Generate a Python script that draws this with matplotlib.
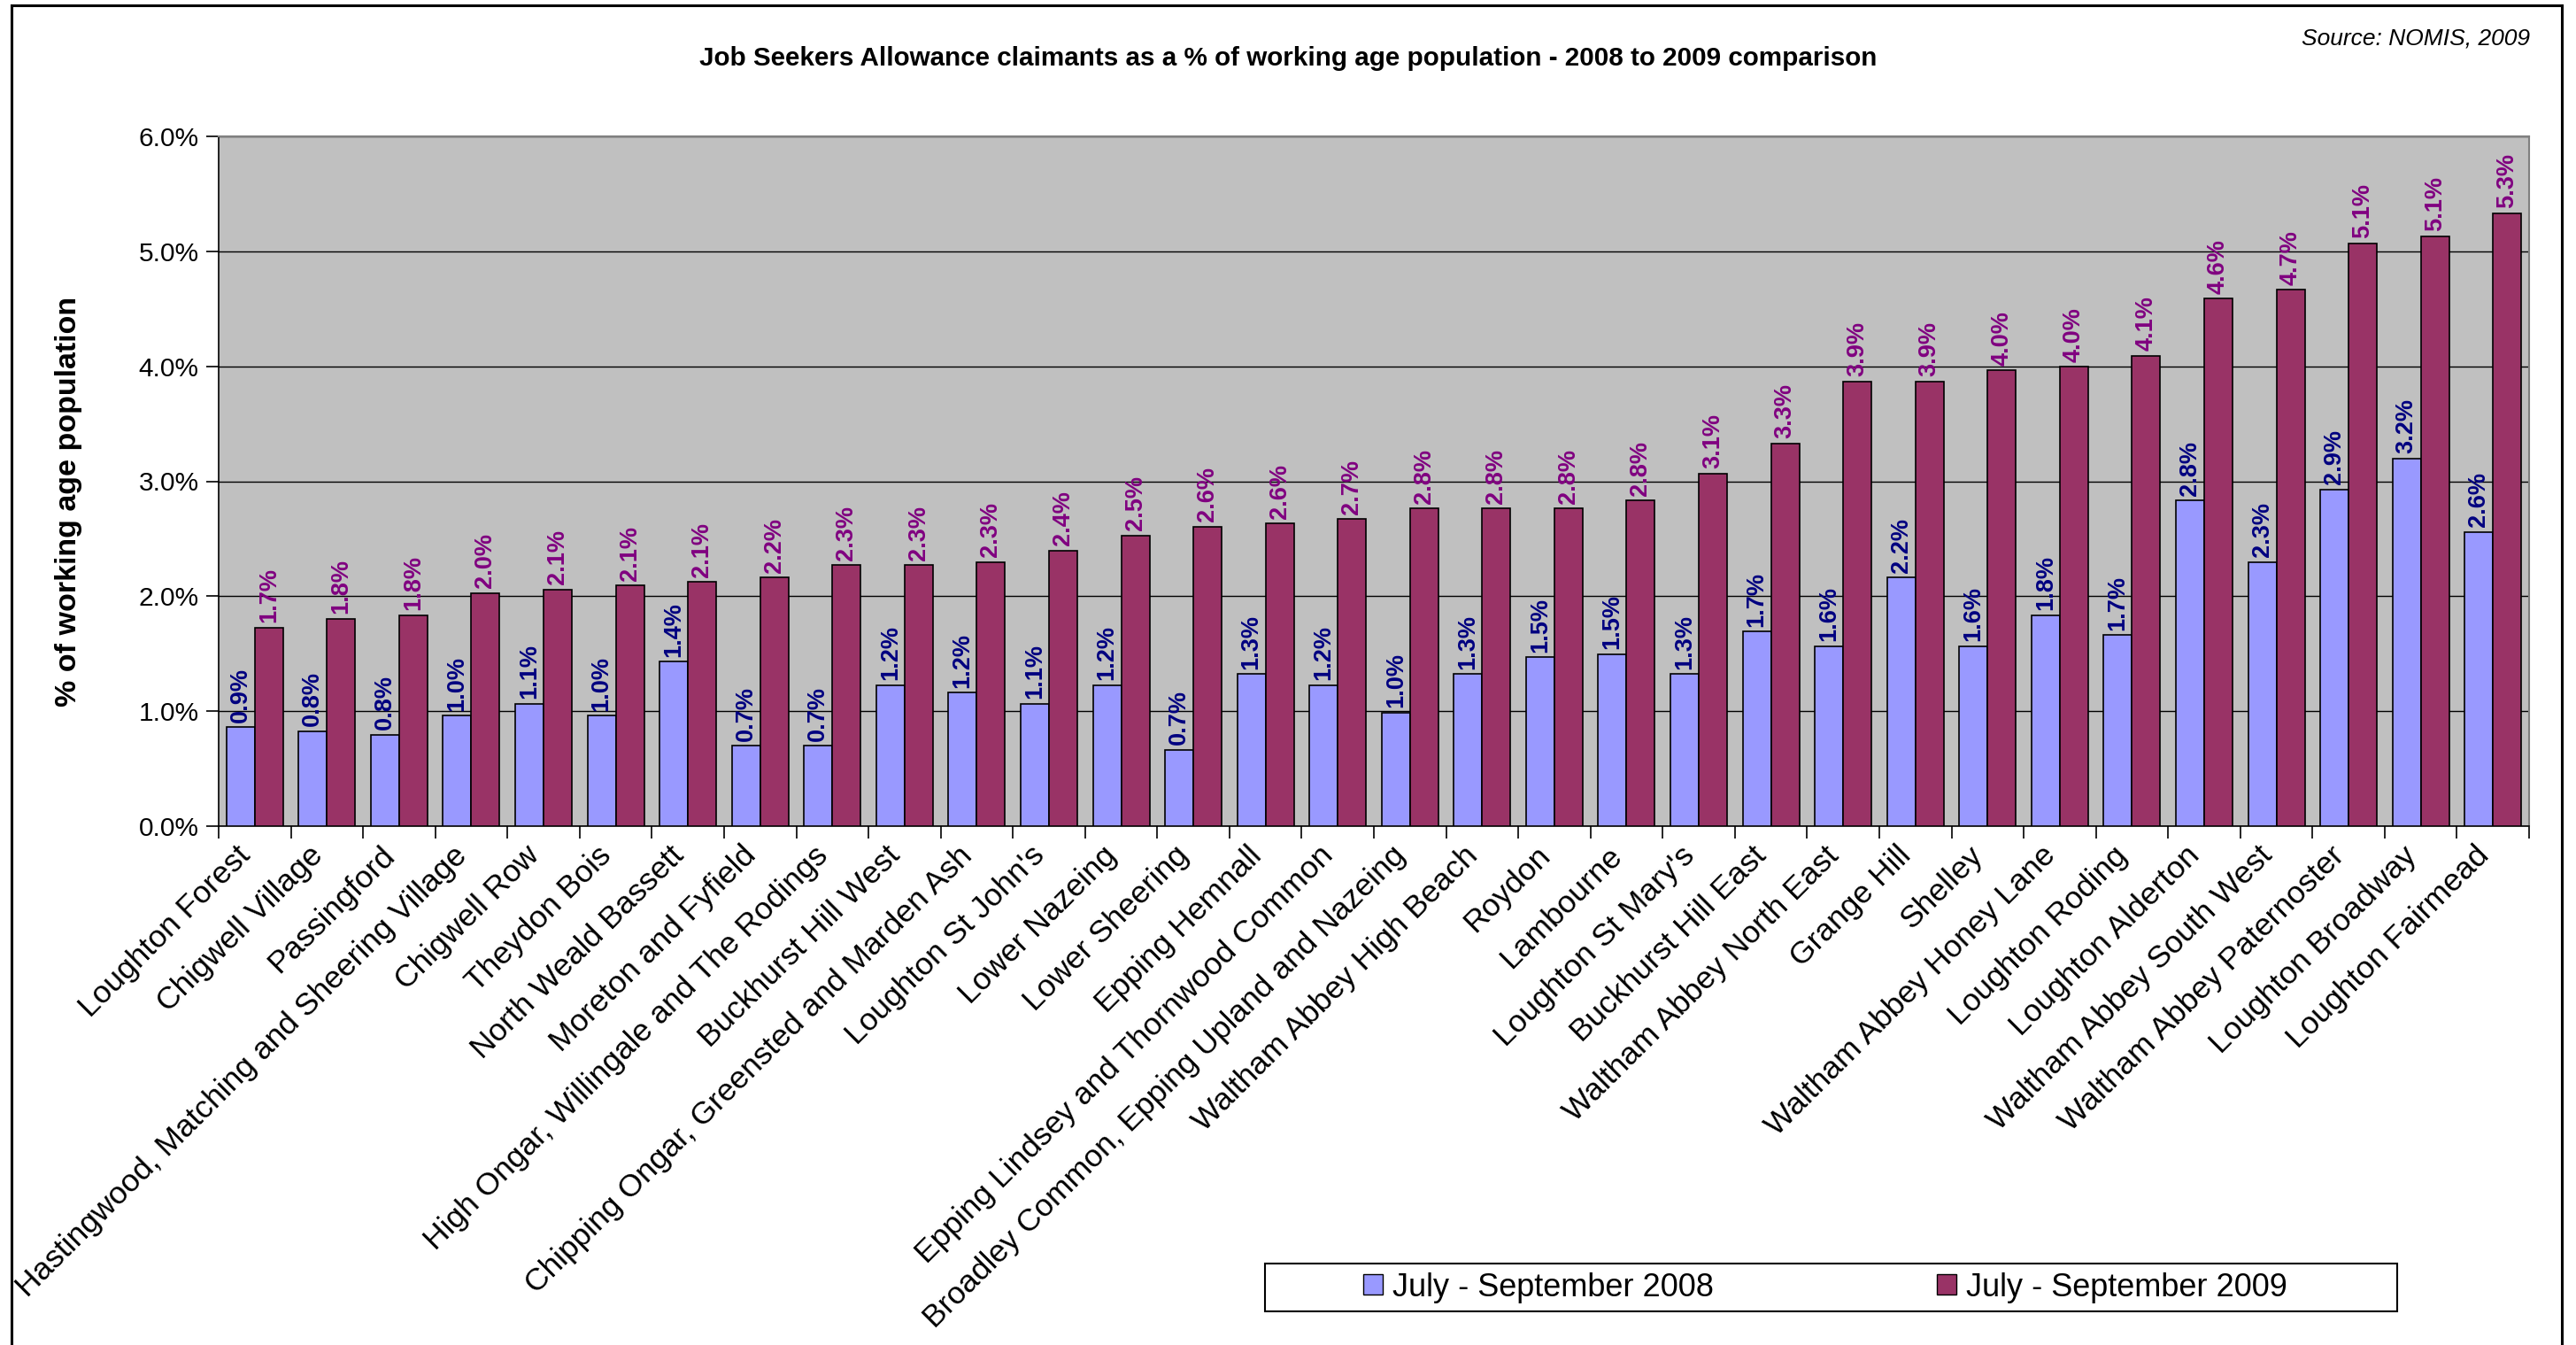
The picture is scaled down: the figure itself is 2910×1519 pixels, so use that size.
import matplotlib
matplotlib.use("Agg")
import matplotlib.pyplot as plt
import matplotlib.transforms as mtrans
from matplotlib.patches import Rectangle, Patch
from matplotlib.lines import Line2D
from matplotlib.ticker import FuncFormatter, FixedLocator
import numpy as np

categories = [
    "Loughton Forest", "Chigwell Village", "Passingford",
    "Hastingwood, Matching and Sheering Village", "Chigwell Row", "Theydon Bois",
    "North Weald Bassett", "Moreton and Fyfield", "High Ongar, Willingale and The Rodings",
    "Buckhurst Hill West", "Chipping Ongar, Greensted and Marden Ash", "Loughton St John's",
    "Lower Nazeing", "Lower Sheering", "Epping Hemnall",
    "Epping Lindsey and Thornwood Common", "Broadley Common, Epping Upland and Nazeing",
    "Waltham Abbey High Beach", "Roydon", "Lambourne", "Loughton St Mary's",
    "Buckhurst Hill East", "Waltham Abbey North East", "Grange Hill", "Shelley",
    "Waltham Abbey Honey Lane", "Loughton Roding", "Loughton Alderton",
    "Waltham Abbey South West", "Waltham Abbey Paternoster", "Loughton Broadway",
    "Loughton Fairmead",
]

jsa_2008 = [0.859, 0.827, 0.794, 0.960, 1.065, 0.960, 1.431, 0.698, 0.698, 1.226,
            1.161, 1.065, 1.226, 0.665, 1.323, 1.226, 0.988, 1.323, 1.468, 1.496,
            1.323, 1.694, 1.565, 2.161, 1.565, 1.835, 1.661, 2.831, 2.298, 2.927,
            3.198, 2.560]

jsa_2009 = [1.726, 1.802, 1.835, 2.028, 2.060, 2.093, 2.125, 2.161, 2.270, 2.270,
            2.298, 2.395, 2.528, 2.605, 2.633, 2.669, 2.762, 2.762, 2.762, 2.831,
            3.069, 3.327, 3.867, 3.867, 3.964, 3.996, 4.093, 4.589, 4.665, 5.069,
            5.133, 5.331]

series_labels = ["July - September 2008", "July - September 2009"]
y_ticks = [0, 1, 2, 3, 4, 5, 6]

plt.rcParams['font.family'] = ['Liberation Sans', 'DejaVu Sans']

W, H = 2910, 1519
fig = plt.figure(figsize=(W / 100, H / 100), dpi=100)
ax = fig.add_axes([247 / W, 1 - 933 / H, (2857 - 247) / W, (933 - 154) / H])
ax.set_facecolor('#C0C0C0')

x = np.arange(len(categories))
bw = 0.3926
c08, c09 = '#9999FF', '#993366'
ax.bar(x - bw / 2, jsa_2008, bw, color=c08, edgecolor='black', linewidth=1.2, zorder=3)
ax.bar(x + bw / 2, jsa_2009, bw, color=c09, edgecolor='black', linewidth=1.2, zorder=3)

for xi, v in zip(x - bw / 2, jsa_2008):
    ax.annotate(f"{v:.1f}%", (xi, v), xytext=(0, 4), textcoords='offset points',
                rotation=90, ha='center', va='bottom', fontsize=19.5,
                fontweight='bold', color='#000080', zorder=4)
for xi, v in zip(x + bw / 2, jsa_2009):
    ax.annotate(f"{v:.1f}%", (xi, v), xytext=(0, 4), textcoords='offset points',
                rotation=90, ha='center', va='bottom', fontsize=19.5,
                fontweight='bold', color='#800080', zorder=4)

ax.set_xlim(-0.5, len(categories) - 0.5)
ax.set_ylim(0, 6)
ax.yaxis.set_major_locator(FixedLocator(y_ticks))
ax.yaxis.set_major_formatter(FuncFormatter(lambda v, p: f"{v:.1f}%"))
ax.grid(axis='y', color='black', linewidth=1.0)
ax.set_axisbelow(True)

ax.set_xticks(np.arange(-0.5, len(categories)))
ax.set_xticklabels([])
ax.set_xticks(x, minor=True)
ax.set_xticklabels(categories, minor=True, rotation=45, ha='right', va='center',
                   rotation_mode='anchor', fontsize=25.5)
ax.tick_params(axis='x', which='minor', length=0, pad=16)
ax.tick_params(axis='x', which='major', length=10, width=1.2, direction='out')
ax.tick_params(axis='y', length=10, width=1.2, labelsize=21.5, pad=6)

offset = mtrans.ScaledTranslation(-10 / 100, -6 / 100, fig.dpi_scale_trans)
for lbl in ax.get_xticklabels(minor=True):
    lbl.set_transform(lbl.get_transform() + offset)

for s in ['top', 'right']:
    ax.spines[s].set_color('#808080')
    ax.spines[s].set_linewidth(1.5)
for s in ['left', 'bottom']:
    ax.spines[s].set_color('black')
    ax.spines[s].set_linewidth(1.2)

fig.text(0.5, 1 - 66 / H,
         "Job Seekers Allowance claimants as a % of working age population - 2008 to 2009 comparison",
         ha='center', va='center', fontsize=21.3, fontweight='bold')
fig.text(2858 / W, 1 - 43 / H, "Source: NOMIS, 2009", ha='right', va='center',
         fontsize=19, style='italic')
fig.text(78 / W, 1 - 566 / H, "% of working age population", rotation=90,
         ha='center', va='center', fontsize=24.5, fontweight='bold')

handles = [Patch(facecolor=c08, edgecolor='black'), Patch(facecolor=c09, edgecolor='black')]
fig.legend(handles, series_labels, loc='center',
           bbox_to_anchor=(2062 / W, 1 - (1427 + 1481) / 2 / H),
           ncol=2, frameon=False, fontsize=26, handlelength=0.6, handleheight=0.6,
           handletextpad=0.3, columnspacing=7.0)
fig.add_artist(Rectangle((1429 / W, 1 - 1481 / H), (2708 - 1429) / W, 54 / H,
                         transform=fig.transFigure, fill=False, edgecolor='black', lw=1.5))

# figure border
fig.add_artist(Line2D([13 / W, 13 / W], [-0.05, 1 - 6 / H], transform=fig.transFigure,
                      color='black', lw=2.2))
fig.add_artist(Line2D([13 / W, 2894 / W], [1 - 6 / H, 1 - 6 / H], transform=fig.transFigure,
                      color='black', lw=2.2))
fig.add_artist(Line2D([2894 / W, 2894 / W], [-0.05, 1 - 6 / H], transform=fig.transFigure,
                      color='black', lw=2.2))

fig.savefig("out.png", dpi=100)
